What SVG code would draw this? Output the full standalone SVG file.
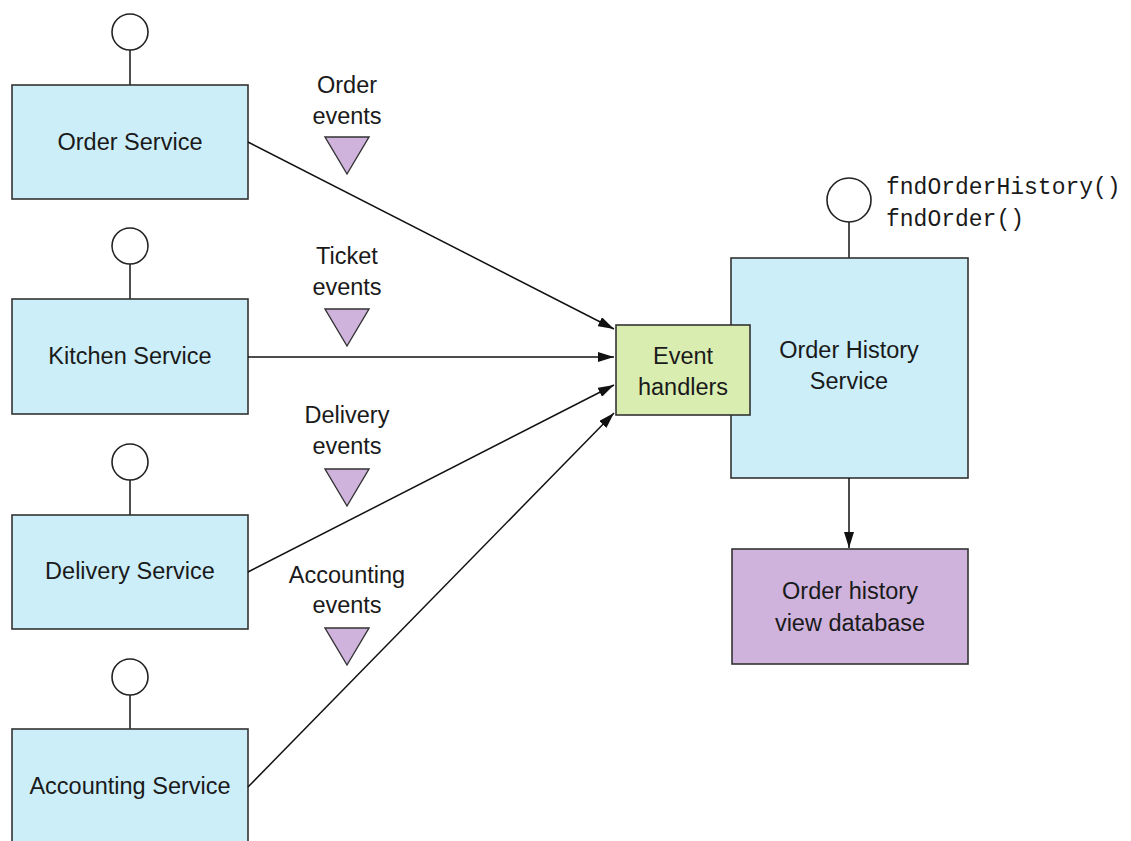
<svg xmlns="http://www.w3.org/2000/svg" width="1131" height="841" viewBox="0 0 1131 841">
<defs>
<marker id="ah" viewBox="0 0 16 10" refX="16" refY="5" markerWidth="16" markerHeight="10" markerUnits="userSpaceOnUse" orient="auto">
<path d="M0,0 L16,5 L0,10 Z" fill="#111"/>
</marker>
<style>
.svc{fill:#CCEEF9;stroke:#333;stroke-width:1.6}
.eh{fill:#D9EDB1;stroke:#333;stroke-width:1.6}
.db{fill:#CFB3DD;stroke:#333;stroke-width:1.6}
.port{fill:#fff;stroke:#222;stroke-width:1.6}
.stem{stroke:#222;stroke-width:1.6;fill:none}
.tri{fill:#CFB3DD;stroke:#333;stroke-width:1.4}
.t{font-family:"Liberation Sans",Arial,sans-serif;font-size:23.5px;fill:#1a1a1a;text-anchor:middle}
.m{font-family:"Liberation Mono","Courier New",monospace;font-size:23px;fill:#1a1a1a}
.c{stroke:#111;stroke-width:1.5;fill:none;marker-end:url(#ah)}
</style>
</defs>
<rect width="1131" height="841" fill="#fff"/>

<g id="order-service">
<line class="stem" x1="130" y1="50" x2="130" y2="85"/>
<circle class="port" cx="130" cy="32" r="18"/>
<rect class="svc" x="12" y="85" width="236" height="114"/>
<text class="t" x="130" y="150">Order Service</text>
</g>

<g id="kitchen-service">
<line class="stem" x1="130" y1="264" x2="130" y2="299"/>
<circle class="port" cx="130" cy="246" r="18"/>
<rect class="svc" x="12" y="299" width="236" height="115"/>
<text class="t" x="130" y="364">Kitchen Service</text>
</g>

<g id="delivery-service">
<line class="stem" x1="130" y1="480" x2="130" y2="515"/>
<circle class="port" cx="130" cy="462" r="18"/>
<rect class="svc" x="12" y="515" width="236" height="114"/>
<text class="t" x="130" y="579">Delivery Service</text>
</g>

<g id="accounting-service">
<line class="stem" x1="130" y1="695" x2="130" y2="729"/>
<circle class="port" cx="130" cy="677" r="18"/>
<rect class="svc" x="12" y="729" width="236" height="130"/>
<text class="t" x="130" y="794">Accounting Service</text>
</g>

<g id="order-events">
<text class="t" x="347" y="93">Order</text>
<text class="t" x="347" y="124">events</text>
<polygon class="tri" points="325,137 369,137 347,174"/>
</g>
<g id="ticket-events">
<text class="t" x="347" y="264">Ticket</text>
<text class="t" x="347" y="295">events</text>
<polygon class="tri" points="325,309 369,309 347,346"/>
</g>
<g id="delivery-events">
<text class="t" x="347" y="423">Delivery</text>
<text class="t" x="347" y="454">events</text>
<polygon class="tri" points="325,469 369,469 347,506"/>
</g>
<g id="accounting-events">
<text class="t" x="347" y="583">Accounting</text>
<text class="t" x="347" y="613">events</text>
<polygon class="tri" points="325,628 369,628 347,665"/>
</g>

<g id="order-history-service">
<line class="stem" x1="849" y1="222" x2="849" y2="258"/>
<circle class="port" cx="849" cy="200" r="22"/>
<rect class="svc" x="731" y="258" width="237" height="220"/>
<text class="t" x="849" y="358">Order History</text>
<text class="t" x="849" y="389">Service</text>
<text class="m" x="886" y="194">fndOrderHistory()</text>
<text class="m" x="886" y="226">fndOrder()</text>
</g>

<g id="event-handlers">
<rect class="eh" x="616" y="325" width="134" height="90"/>
<text class="t" x="683" y="364">Event</text>
<text class="t" x="683" y="395">handlers</text>
</g>

<g id="order-history-db">
<rect class="db" x="732" y="549" width="236" height="115"/>
<text class="t" x="850" y="599">Order history</text>
<text class="t" x="850" y="631">view database</text>
</g>

<g id="connectors">
<line class="c" x1="248" y1="142" x2="614" y2="329"/>
<line class="c" x1="248" y1="357" x2="614" y2="357"/>
<line class="c" x1="248" y1="572" x2="614" y2="385"/>
<line class="c" x1="248" y1="787" x2="614" y2="413"/>
<line class="c" x1="849" y1="478" x2="849" y2="548"/>
</g>
</svg>
